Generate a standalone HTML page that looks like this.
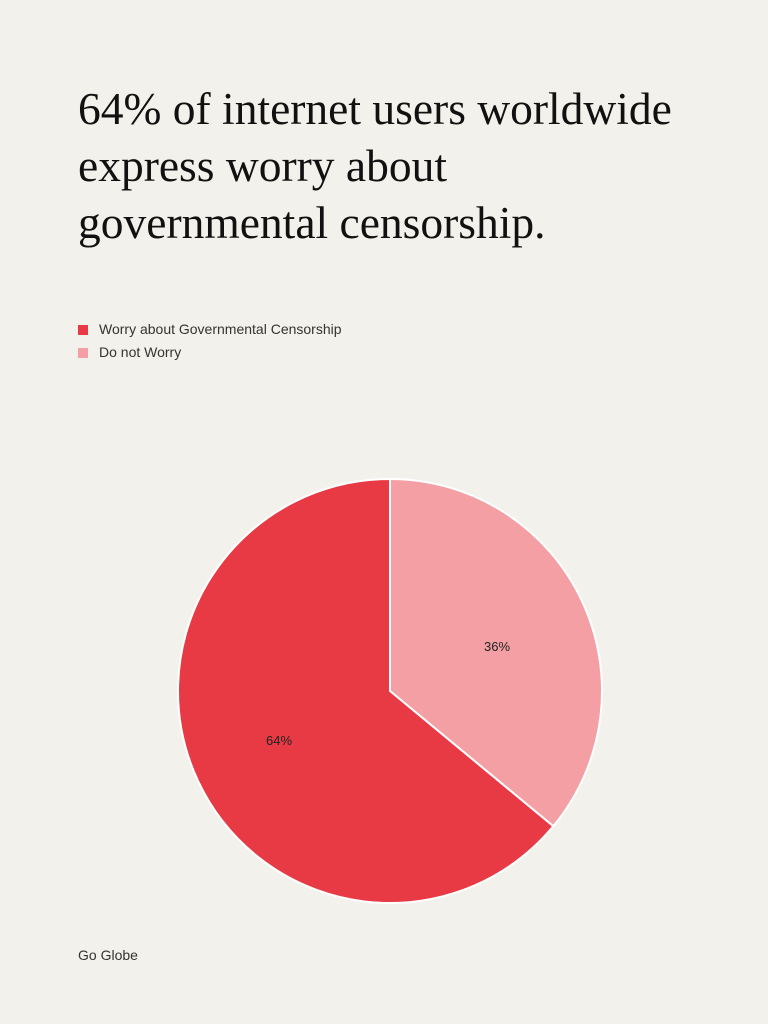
<!DOCTYPE html>
<html><head><meta charset="utf-8"><style>
html,body{margin:0;padding:0;}
body{width:768px;height:1024px;background:#f3f1eb;position:relative;overflow:hidden;font-family:"Liberation Sans",sans-serif;}
h1{position:absolute;left:78px;top:80px;margin:0;font-family:"Liberation Serif",serif;font-weight:normal;font-size:45.5px;line-height:57px;color:#111;white-space:nowrap;}
.leg{position:absolute;left:78px;font-size:14px;color:#333;}
.leg span{display:inline-block;width:10px;height:10px;margin-right:11px;vertical-align:-1px;}
.src{position:absolute;left:78px;top:947px;font-size:14px;color:#333;}
</style></head><body>
<h1>64% of internet users worldwide<br>express worry about<br>governmental censorship.</h1>
<div class="leg" style="top:321px"><span style="background:#e83a44"></span>Worry about Governmental Censorship</div>
<div class="leg" style="top:344px"><span style="background:#f39fa4"></span>Do not Worry</div>
<svg style="position:absolute;left:0;top:0" width="768" height="1024">
<path d="M390,691 L390,479 A212,212 0 0,1 553.3,826.2 Z" fill="#f39fa4" stroke="#fff" stroke-width="2"/>
<path d="M390,691 L553.3,826.2 A212,212 0 1,1 390,479 Z" fill="#e83a44" stroke="#fff" stroke-width="2"/>
<text x="497" y="651" font-size="13" text-anchor="middle" fill="#222" font-family="Liberation Sans">36%</text>
<text x="279" y="745" font-size="13" text-anchor="middle" fill="#222" font-family="Liberation Sans">64%</text>
</svg>
<div class="src">Go Globe</div>
</body></html>
